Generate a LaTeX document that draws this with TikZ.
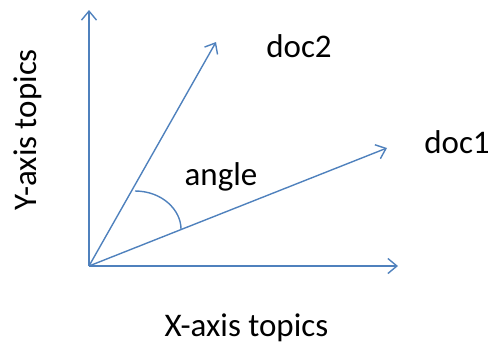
\documentclass[tikz,border=0pt]{standalone}
\usepackage{fontspec}
\setmainfont{Carlito}
\usetikzlibrary{arrows.meta}
\definecolor{lineblue}{HTML}{4F81BD}
\begin{document}
\begin{tikzpicture}[x=1pt,y=-1pt,
  vec/.style={draw=lineblue,line width=1.4pt,-{Straight Barb[length=9pt,width=15pt,line width=1.4pt]}},
  lbl/.style={font=\fontsize{33}{38}\selectfont,inner sep=0pt,text=black,anchor=base}]
\useasboundingbox (0,0) rectangle (491,341);
\coordinate (O) at (89,266);
\coordinate (ytip) at (89,10);
\coordinate (xtip) at (398,266);
\coordinate (d1tip) at (387,148);
\coordinate (d2tip) at (216,42);
\coordinate (a1) at (135,191);
\coordinate (a2) at (181,229);
\draw[vec] (O) -- (ytip);
\draw[vec] (O) -- (xtip);
\draw[vec] (O) -- (d1tip);
\draw[vec] (O) -- (d2tip);
\draw[lineblue,line width=1.4pt] (a1) .. controls (162,191) and (181,210) .. (a2);
\node[lbl] (doc2) at (299,57) {doc2};
\node[lbl] (doc1) at (457,153) {doc1};
\node[lbl] (angle) at (221,185) {angle};
\node[lbl] (xlab) at (246.5,336) {X-axis topics};
\node[lbl,rotate=90] (ylab) at (36,130) {Y-axis topics};
\end{tikzpicture}
\end{document}
